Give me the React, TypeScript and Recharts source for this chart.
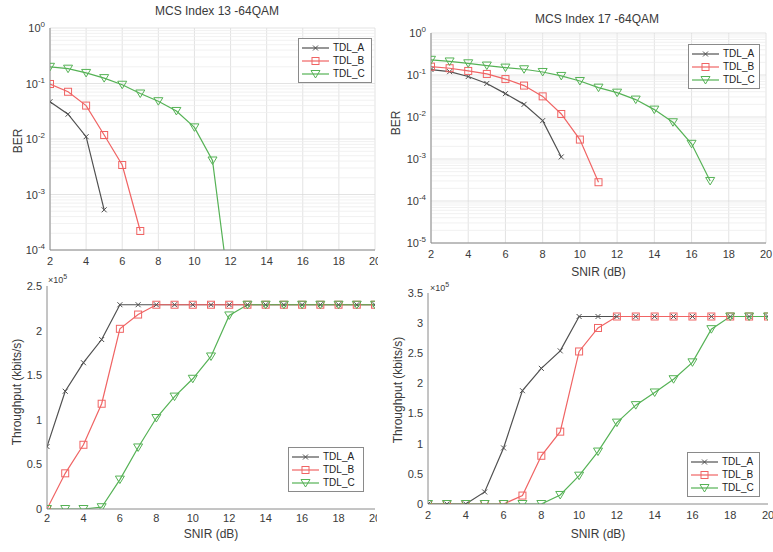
import React from 'react'
import { LineChart, Line, XAxis, YAxis, CartesianGrid, ReferenceLine, Legend } from 'recharts'

const FONT = '"Liberation Sans", Arial, sans-serif'
const FRAME = '#8a8a8a'
const TXT = '#3a3a3a'

// x axis
const snir = [2, 3, 4, 5, 6, 7, 8, 9, 10, 11, 12, 13, 14, 15, 16, 17, 18, 19, 20]
const xTicks = [2, 4, 6, 8, 10, 12, 14, 16, 18, 20]
const names = ['TDL_A', 'TDL_B', 'TDL_C']
const colors = ['#505050', '#f06464', '#55b255']
const kinds = ['x', 'sq', 'tri']

// BER, MCS index 13 (64QAM)
const ber13A = [0.047, 0.028, 0.011, 0.00053]
const ber13B = [0.098, 0.071, 0.04, 0.0118, 0.0034, 0.00022]
const ber13C = [0.2, 0.185, 0.155, 0.125, 0.095, 0.066, 0.048, 0.032, 0.0162, 0.0041, 0.000012]

// BER, MCS index 17 (64QAM)
const ber17A = [0.135, 0.12, 0.092, 0.063, 0.036, 0.02, 0.0082, 0.00112]
const ber17B = [0.158, 0.145, 0.125, 0.106, 0.08, 0.056, 0.031, 0.0118, 0.0029, 0.00028]
const ber17C = [0.23, 0.21, 0.19, 0.168, 0.15, 0.137, 0.118, 0.095, 0.072, 0.05, 0.038, 0.026, 0.015, 0.0075, 0.0023, 0.0003]

// throughput (kbits/s), MCS 13
const thr13A = [70000, 132000, 164000, 190000, 229000, 229000, 229000, 229000, 229000, 229000, 229000, 229000, 229000, 229000, 229000, 229000, 229000, 229000, 229000]
const thr13B = [0, 40000, 72000, 118000, 202000, 218000, 229000, 229000, 229000, 229000, 229000, 229000, 229000, 229000, 229000, 229000, 229000, 229000, 229000]
const thr13C = [0, 0, 0, 2000, 33000, 69000, 102000, 126000, 146000, 171000, 217000, 229000, 229000, 229000, 229000, 229000, 229000, 229000, 229000]

// throughput (kbits/s), MCS 17
const thr17A = [0, 0, 0, 20000, 93000, 188000, 225000, 254000, 311000, 311000, 311000, 311000, 311000, 311000, 311000, 311000, 311000, 311000, 311000]
const thr17B = [0, 0, 0, 0, 0, 14000, 80000, 120000, 253000, 292000, 311000, 311000, 311000, 311000, 311000, 311000, 311000, 311000, 311000]
const thr17C = [0, 0, 0, 0, 0, 0, 0, 15000, 47000, 87000, 135000, 164000, 185000, 207000, 235000, 290000, 311000, 311000, 311000]

const berTicks13 = [0.0001, 0.001, 0.01, 0.1, 1]
const berTicks17 = [0.00001, 0.0001, 0.001, 0.01, 0.1, 1]
const thrTicks13 = [0, 50000, 100000, 150000, 200000, 250000]
const thrTicks17 = [0, 50000, 100000, 150000, 200000, 250000, 300000, 350000]
const minorMult = [2, 3, 4, 5, 6, 7, 8, 9]

const rows = (a: number[], b: number[], c: number[]) =>
  snir.map((s, i) => ({ snir: s, A: a[i] ?? null, B: b[i] ?? null, C: c[i] ?? null }))

function Marker({ kind, cx, cy, color }: { kind: string; cx: number; cy: number; color: string }) {
  if (kind === 'x')
    return (
      <g stroke={color} strokeWidth={1}>
        <line x1={cx - 2.5} y1={cy - 2.5} x2={cx + 2.5} y2={cy + 2.5} />
        <line x1={cx - 2.5} y1={cy + 2.5} x2={cx + 2.5} y2={cy - 2.5} />
      </g>
    )
  if (kind === 'sq')
    return <rect x={cx - 3.5} y={cy - 3.5} width={7} height={7} fill="none" stroke={color} strokeWidth={1} />
  return (
    <polygon
      points={`${cx - 4.5},${cy - 3.5} ${cx + 4.5},${cy - 3.5} ${cx},${cy + 4}`}
      fill="none"
      stroke={color}
      strokeWidth={1}
    />
  )
}

const dotFor = (kind: string, color: string) => (p: any) => {
  if (p.cx == null || p.cy == null || p.value == null) return <g key={p.index} />
  return (
    <g key={p.index}>
      <Marker kind={kind} cx={p.cx} cy={p.cy} color={color} />
    </g>
  )
}

function PowTick({ x, y, payload }: any) {
  const e = Math.round(Math.log10(payload.value))
  return (
    <text x={x} y={y} dy={4} textAnchor="end" fill={TXT} fontSize={11} fontFamily={FONT}>
      <tspan>10</tspan>
      <tspan dy={-5} fontSize={8}>{e}</tspan>
    </text>
  )
}

function LegendBox({ w }: { w: number }) {
  return (
    <div style={{ border: `1px solid ${FRAME}`, background: '#fff', width: w, padding: '2px 0', fontFamily: FONT, fontSize: 10, color: '#222' }}>
      {names.map((n, i) => (
        <div key={n} style={{ display: 'flex', alignItems: 'center', height: 13 }}>
          <svg width={34} height={12}>
            <line x1={3} y1={6} x2={30} y2={6} stroke={colors[i]} strokeWidth={1.2} />
            <Marker kind={kinds[i]} cx={16.5} cy={6} color={colors[i]} />
          </svg>
          <span>{n}</span>
        </div>
      ))}
    </div>
  )
}

interface PlotProps {
  data: any[]
  log: boolean
  domain: [number, number]
  yTicks: number[]
  width: number
  height: number
  margin: { top: number; right: number; left: number; bottom: number }
  yWidth: number
  xHeight: number
  xTickMargin?: number
  xLabel?: boolean
  legend: { left: number; top: number; w: number }
  minor?: number[]
}

function Plot(p: PlotProps) {
  const scale = p.log ? 'log' : 'linear'
  return (
    <LineChart width={p.width} height={p.height} data={p.data} margin={p.margin}>
      {p.log && <CartesianGrid stroke="#dcdcdc" strokeWidth={0.8} />}
      {(p.minor || []).map(v => (
        <ReferenceLine key={v} y={v} stroke="#eeeeee" strokeWidth={0.8} ifOverflow="hidden" />
      ))}
      <XAxis
        dataKey="snir"
        type="number"
        domain={[2, 20]}
        ticks={xTicks}
        allowDataOverflow
        height={p.xHeight}
        axisLine={{ stroke: FRAME }}
        tickLine={false}
        tickSize={3}
        tickMargin={p.xTickMargin ?? 4}
        tick={{ fontSize: 11, fill: TXT, fontFamily: FONT }}
        label={p.xLabel ? { value: 'SNIR (dB)', position: 'insideBottom', offset: 0, fontSize: 12, fill: TXT, fontFamily: FONT } : undefined}
      />
      <XAxis
        xAxisId="top"
        orientation="top"
        type="number"
        domain={[2, 20]}
        ticks={xTicks}
        height={0}
        mirror
        tick={false}
        tickSize={4}
        axisLine={{ stroke: FRAME }}
        tickLine={{ stroke: FRAME }}
      />
      <YAxis
        type="number"
        scale={scale}
        domain={p.domain}
        ticks={p.yTicks}
        allowDataOverflow
        width={p.yWidth}
        axisLine={{ stroke: FRAME }}
        tickLine={false}
        tickSize={3}
        tickMargin={2}
        tick={p.log ? <PowTick /> : { fontSize: 11, fill: TXT, fontFamily: FONT }}
        tickFormatter={p.log ? undefined : (v: number) => String(v / 100000)}
      />
      <YAxis
        yAxisId="r"
        orientation="right"
        type="number"
        scale={scale}
        domain={p.domain}
        ticks={p.yTicks}
        allowDataOverflow
        width={0}
        mirror
        tick={false}
        tickSize={4}
        axisLine={{ stroke: FRAME }}
        tickLine={{ stroke: FRAME }}
      />
      {['A', 'B', 'C'].map((k, i) => (
        <Line
          key={k}
          dataKey={k}
          name={names[i]}
          stroke={colors[i]}
          strokeWidth={1.2}
          dot={dotFor(kinds[i], colors[i])}
          activeDot={false}
          isAnimationActive={false}
        />
      ))}
      <Legend
        layout="horizontal"
        verticalAlign="middle"
        align="center"
        wrapperStyle={{ left: p.legend.left, top: p.legend.top, width: 'auto', height: 'auto' }}
        content={() => <LegendBox w={p.legend.w} />}
      />
    </LineChart>
  )
}

const minor13 = [0.0001, 0.001, 0.01, 0.1].flatMap(d => minorMult.map(m => d * m))
const minor17 = [0.00001, 0.0001, 0.001, 0.01, 0.1].flatMap(d => minorMult.map(m => d * m))

const panel = (left: number, top: number, width: number, height: number): React.CSSProperties => ({
  position: 'absolute', left, top, width, height, overflow: 'hidden',
})

export default function App() {
  return (
    <div style={{ position: 'absolute', left: 0, top: 0, width: 773, height: 552, background: '#fff', fontFamily: FONT }}>
      <div style={panel(0, 0, 378, 272)}>
        <Plot
          data={rows(ber13A, ber13B, ber13C)}
          log
          domain={[0.0001, 1]}
          yTicks={berTicks13}
          minor={minor13}
          width={400}
          height={272}
          margin={{ top: 28, right: 25, left: 0, bottom: 0 }}
          yWidth={50}
          xHeight={22}
          legend={{ left: 298, top: 38, w: 72 }}
        />
      </div>
      <div style={panel(385, 0, 388, 280)}>
        <Plot
          data={rows(ber17A, ber17B, ber17C)}
          log
          domain={[0.00001, 1]}
          yTicks={berTicks17}
          minor={minor17}
          width={400}
          height={280}
          margin={{ top: 33, right: 19, left: 0, bottom: 4 }}
          yWidth={46}
          xHeight={33}
          xLabel
          legend={{ left: 303, top: 44, w: 70 }}
        />
      </div>
      <div style={panel(0, 272, 377, 280)}>
        <Plot
          data={rows(thr13A, thr13B, thr13C)}
          log={false}
          domain={[0, 250000]}
          yTicks={thrTicks13}
          width={400}
          height={280}
          margin={{ top: 14, right: 25, left: 0, bottom: 14 }}
          yWidth={47}
          xHeight={29}
          xTickMargin={2}
          xLabel
          legend={{ left: 288, top: 175, w: 74 }}
        />
      </div>
      <div style={panel(385, 280, 388, 272)}>
        <Plot
          data={rows(thr17A, thr17B, thr17C)}
          log={false}
          domain={[0, 350000]}
          yTicks={thrTicks17}
          width={410}
          height={272}
          margin={{ top: 13, right: 27, left: 0, bottom: 14 }}
          yWidth={43}
          xHeight={34}
          xLabel
          legend={{ left: 302, top: 172, w: 71 }}
        />
      </div>
      <svg width={773} height={552} style={{ position: 'absolute', left: 0, top: 0, pointerEvents: 'none' }} fontFamily={FONT}>
        <text x={217} y={15} textAnchor="middle" fontSize={12} fill={TXT}>MCS Index 13 -64QAM</text>
        <text x={597} y={23} textAnchor="middle" fontSize={12} fill={TXT}>MCS Index 17 -64QAM</text>
        <text x={22} y={141} textAnchor="middle" fontSize={12} fill={TXT} transform="rotate(-90 22 141)">BER</text>
        <text x={400} y={123} textAnchor="middle" fontSize={12} fill={TXT} transform="rotate(-90 400 123)">BER</text>
        <text x={21} y={392} textAnchor="middle" fontSize={12} fill={TXT} transform="rotate(-90 21 392)">Throughput (kbits/s)</text>
        <text x={402} y={390} textAnchor="middle" fontSize={12} fill={TXT} transform="rotate(-90 402 390)">Throughput (kbits/s)</text>
        <text x={48} y={283} fontSize={9} fill={TXT}>
          <tspan>×10</tspan>
          <tspan dy={-4} fontSize={7}>5</tspan>
        </text>
        <text x={430} y={291} fontSize={9} fill={TXT}>
          <tspan>×10</tspan>
          <tspan dy={-4} fontSize={7}>5</tspan>
        </text>
      </svg>
    </div>
  )
}
